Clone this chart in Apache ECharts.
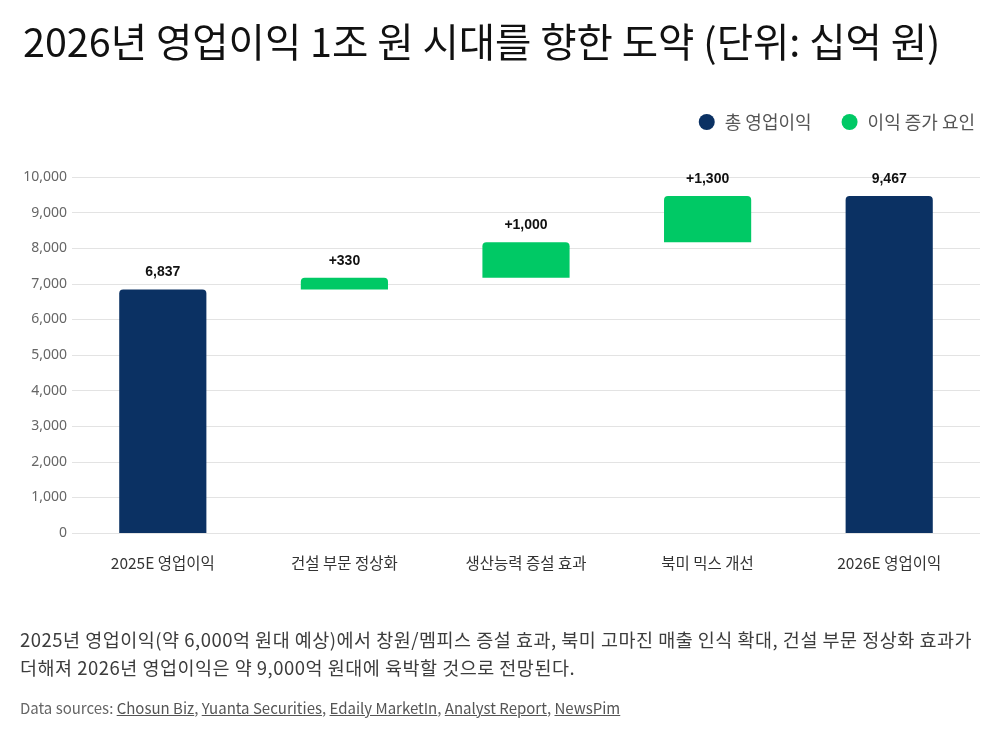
<!DOCTYPE html>
<html>
<head>
<meta charset="utf-8">
<script src="https://cdn.jsdelivr.net/npm/echarts@6/dist/echarts.min.js"></script>
<style>
  body { margin:0; background:#fff; font-family:"Noto Sans CJK KR","Noto Sans",sans-serif; }
  #main { position:absolute; left:0; top:0; width:1000px; height:750px; }
  .note { position:absolute; left:20px; top:625px; width:978px; font-size:18.5px; line-height:28px; color:#3c3c3c; letter-spacing:0.5px; white-space:nowrap; }
  .src { position:absolute; left:20px; top:697px; font-size:15px; color:#666; }
  .src a { color:#555; text-decoration:underline; }
</style>
</head>
<body>
<div id="main"></div>
<div class="note">2025년 영업이익(약 6,000억 원대 예상)에서 창원/멤피스 증설 효과, 북미 고마진 매출 인식 확대, 건설 부문 정상화 효과가<br>더해져 2026년 영업이익은 약 9,000억 원대에 육박할 것으로 전망된다.</div>
<div class="src">Data sources: <a>Chosun Biz</a>, <a>Yuanta Securities</a>, <a>Edaily MarketIn</a>, <a>Analyst Report</a>, <a>NewsPim</a></div>
<script>
var categories = ['2025E 영업이익', '건설 부문 정상화', '생산능력 증설 효과', '북미 믹스 개선', '2026E 영업이익'];
var baseValues = [0, 6837, 7167, 8167, 0];          // 투명 받침
var totalValues = [6837, '-', '-', '-', 9467];      // 총 영업이익
var increaseValues = ['-', 330, 1000, 1300, '-'];   // 이익 증가 요인

var navy = '#0b3163';
var green = '#00c965';

var myChart = echarts.init(document.getElementById('main'));

var option = {
  backgroundColor: '#fff',
  title: {
    text: '2026년 영업이익 1조 원 시대를 향한 도약 (단위: 십억 원)',
    left: 18, top: 17,
    textStyle: { fontSize: 39.5, fontWeight: 'normal', color: '#111', fontFamily: 'Noto Sans CJK KR' }
  },
  legend: {
    data: ['총 영업이익', '이익 증가 요인'],
    right: 20, top: 108,
    icon: 'circle', itemWidth: 16, itemHeight: 16, itemGap: 30,
    textStyle: { fontSize: 18, color: '#555', fontFamily: 'Noto Sans CJK KR', padding: [0, 0, 0, 5] }
  },
  grid: { left: 72, right: 20, top: 177, bottom: 217 },
  xAxis: {
    type: 'category',
    data: categories,
    axisLine: { show: false },
    axisTick: { show: false },
    axisLabel: { fontSize: 15.5, color: '#333', margin: 22, fontFamily: 'Noto Sans CJK KR' }
  },
  yAxis: {
    type: 'value',
    min: 0, max: 10000, interval: 1000,
    axisLine: { show: false },
    axisTick: { show: false },
    axisLabel: { fontSize: 14, color: '#666', margin: 5, fontFamily: 'Noto Sans',
      formatter: function (v) { return v.toLocaleString('en-US'); } },
    splitLine: { lineStyle: { color: '#e3e3e3' } }
  },
  series: [
    {
      name: 'base', type: 'bar', stack: 'w', barWidth: '48%',
      itemStyle: { color: 'transparent' },
      emphasis: { disabled: true },
      data: baseValues
    },
    {
      name: '총 영업이익', type: 'bar', stack: 'w',
      itemStyle: { color: navy, borderRadius: [4, 4, 0, 0] },
      label: { show: true, position: 'top', distance: 10, fontSize: 14, fontWeight: 600, color: '#111',
        formatter: function (p) { return p.value.toLocaleString('en-US'); } },
      data: totalValues
    },
    {
      name: '이익 증가 요인', type: 'bar', stack: 'w',
      itemStyle: { color: green, borderRadius: [4, 4, 0, 0] },
      label: { show: true, position: 'top', distance: 10, fontSize: 14, fontWeight: 600, color: '#111',
        formatter: function (p) { return '+' + p.value.toLocaleString('en-US'); } },
      data: increaseValues
    }
  ]
};

myChart.setOption(option);
</script>
</body>
</html>
